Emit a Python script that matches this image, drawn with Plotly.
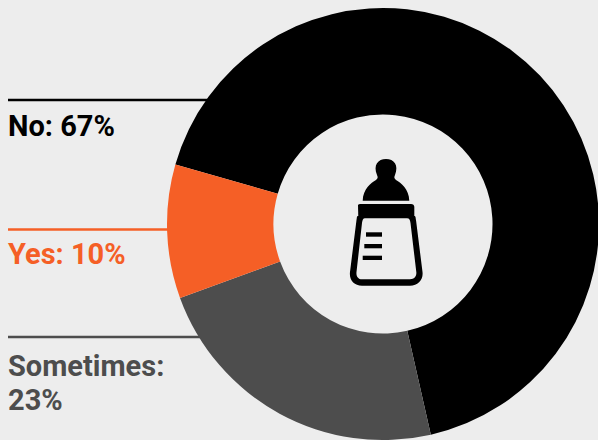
import re
import plotly.graph_objects as go

WIDTH, HEIGHT = 600, 440
BG = "#EDEDED"
FONT = "Roboto"

categories = ["No", "Sometimes", "Yes"]
values = [67, 23, 10]
colors = ["#000000", "#4D4D4D", "#F55F26"]
rule_heights = [100, 337, 229.5]
rule_ends = [215, 215, 175]

# Each label: its text lines and the top pixel of each line
label_lines = [
    [("{c}: {v}%", 107)],
    [("{c}:", 347), ("{v}%", 381)],
    [("{c}: {v}%", 235)],
]


def to_paper(path):
    """Convert a pixel-space SVG path to paper coordinates."""
    nums = iter(range(10 ** 6))

    def convert(match):
        value = float(match.group())
        if next(nums) % 2 == 0:
            return f"{value / WIDTH:.5f}"
        return f"{1 - value / HEIGHT:.5f}"

    return re.sub(r"-?\d+\.?\d*", convert, path)


def icon(path, fill="#000000"):
    return dict(type="path", xref="paper", yref="paper", path=to_paper(path),
                fillcolor=fill, line=dict(width=0), layer="above")


# Baby bottle pictogram in the middle of the ring
bottle = [
    # teat and flange
    icon("M 362.7 200.7 C 363 189 371 183 376 180 C 378 178.5 378 177 377 175 "
         "C 373 165 378 159 386 159 C 394 159 399 165 395 175 C 394 177 394 178.5 396 180 "
         "C 401 183 409 189 409.3 200.7 Z"),
    # collar
    icon("M 358 205 C 358.5 204 359.5 204 361 204 L 411 204 C 413 204 414.3 205 414.3 207 "
         "L 414.3 218 L 358.3 218 Z"),
    # outer body
    icon("M 358 216 L 414 216 C 416 216 415.5 218 416 220 L 422.5 272 "
         "C 423.5 280 418 285.7 410 285.7 L 362 285.7 C 354 285.7 349 280 350 272 "
         "L 356.5 220 C 357 218 356.5 216 358 216 Z"),
    # inner cut-out
    icon("M 365 218.3 L 407 218.3 C 409.5 218.3 410 220 410.5 223 L 416.3 272 "
         "C 416.8 276 414.5 279.3 410 279.3 L 362 279.3 C 358 279.3 356 276 356.5 272 "
         "L 362 223 C 362.5 220 363 218.3 365 218.3 Z", BG),
    # graduation marks
    icon("M 366 232.3 L 382 232.3 L 382 236.7 L 366 236.7 Z"),
    icon("M 364.3 244 L 382 244 L 382 248.3 L 364.3 248.3 Z"),
    icon("M 362.7 255.7 L 382 255.7 L 382 260 L 362.7 260 Z"),
]

rules = [
    dict(type="line", xref="paper", yref="paper", layer="below",
         x0=8 / WIDTH, x1=end / WIDTH, y0=1 - y / HEIGHT, y1=1 - y / HEIGHT,
         line=dict(color=color, width=2.5))
    for y, end, color in zip(rule_heights, rule_ends, colors)
]

labels = [
    dict(xref="paper", yref="paper", x=6 / WIDTH, y=1 - top / HEIGHT,
         xanchor="left", yanchor="top", align="left", showarrow=False,
         text=f"<b>{tpl.format(c=c, v=v)}</b>",
         font=dict(family=FONT, size=29, color=color))
    for lines, c, v, color in zip(label_lines, categories, values, colors)
    for tpl, top in lines
]

# The ring runs just past the right edge of the page
fig = go.Figure(go.Pie(
    labels=categories,
    values=values,
    hole=0.507,
    sort=False,
    direction="clockwise",
    rotation=-74,
    marker=dict(colors=colors, line=dict(width=0)),
    textinfo="none",
    hoverinfo="label+percent",
    domain=dict(x=[166 / WIDTH, 1], y=[0, 432 / HEIGHT]),
))

fig.update_layout(
    width=WIDTH,
    height=HEIGHT,
    margin=dict(l=0, r=0, t=0, b=0),
    paper_bgcolor=BG,
    plot_bgcolor=BG,
    showlegend=False,
    shapes=rules + bottle,
    annotations=labels,
)

fig.write_html(
    "out.html",
    config=dict(displayModeBar=False),
    post_script="document.documentElement.style.overflow = 'hidden';",
)
